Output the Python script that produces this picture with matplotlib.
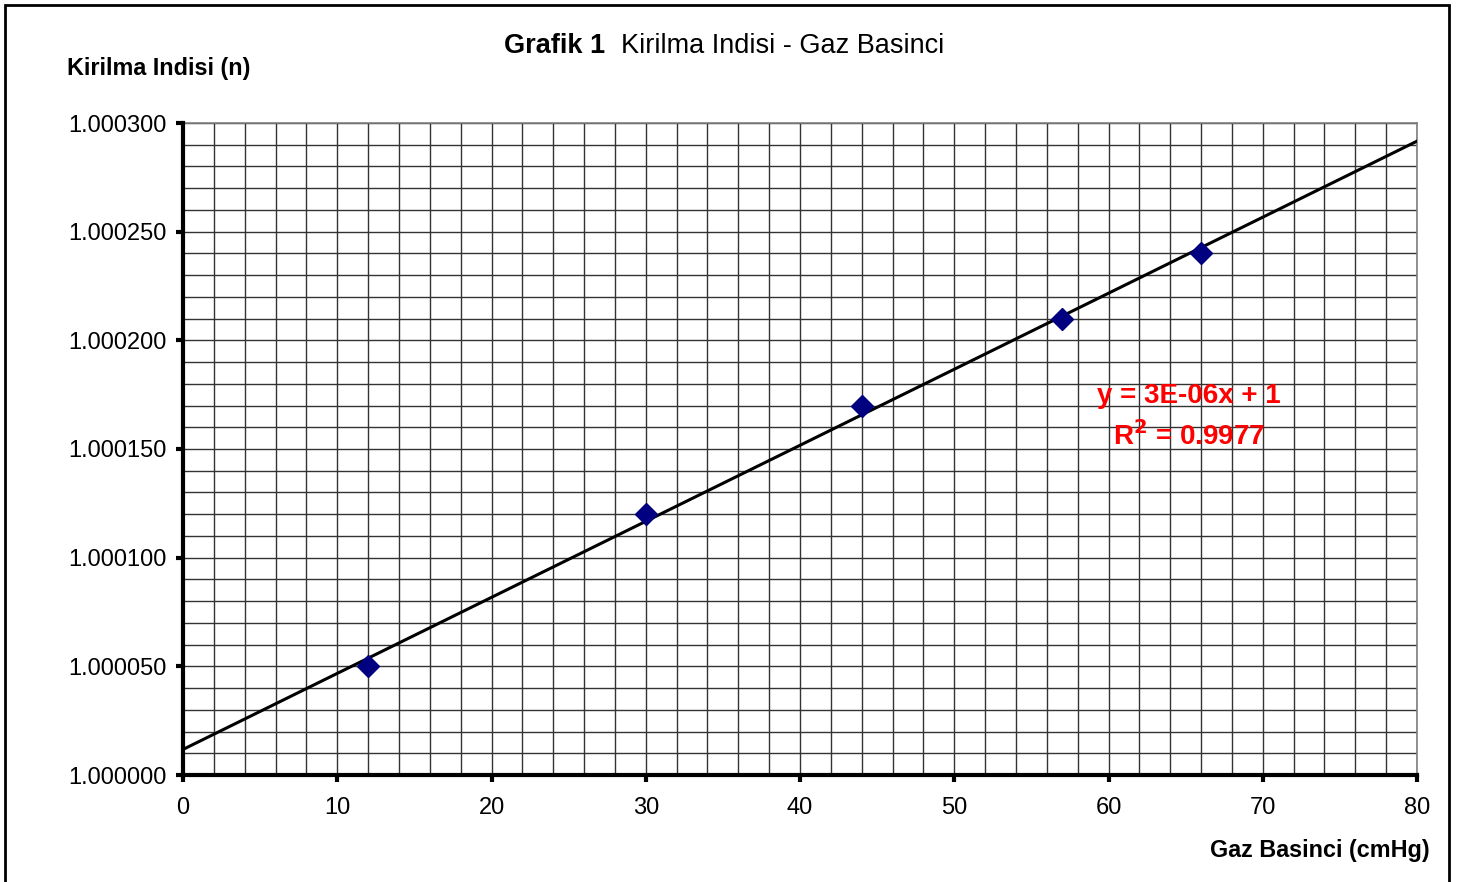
import matplotlib.pyplot as plt
import matplotlib.patches as patches
import numpy as np

plt.rcParams['font.family'] = ['Liberation Sans', 'DejaVu Sans']

# olcum verileri
basinc = [12, 30, 44, 57, 66]
indis = [1.000050, 1.000120, 1.000170, 1.000210, 1.000240]

fig = plt.figure(figsize=(14.61, 8.82), dpi=100)
ax = fig.add_axes([183/1461, 1-775/882, (1417-183)/1461, (775-123)/882])

# cerceve
fig.patches.append(patches.Rectangle((5/1461, -0.05), 1444/1461, 1.05 - 5/882,
                                     transform=fig.transFigure, fill=False,
                                     edgecolor='black', linewidth=2))

# dogrusal uydurma
egim, kesen = np.polyfit(basinc, indis, 1)
tahmin = np.polyval([egim, kesen], basinc)
r2 = 1 - np.sum((np.array(indis) - tahmin)**2) / np.sum((np.array(indis) - np.mean(indis))**2)
xx = np.array([0, 80])
ax.plot(xx, egim*xx + kesen, color='black', linewidth=2.2, zorder=3)
ax.plot(basinc, indis, linestyle='none', marker='D', markersize=11,
        color='#000080', zorder=4)

ax.set_xlim(0, 80)
ax.set_ylim(1.0, 1.0003)
ax.set_xticks(np.arange(0, 81, 10))
ax.set_xticks(np.arange(0, 81, 2), minor=True)
ax.set_yticks(np.arange(0, 7)*0.00005 + 1.0)
ax.set_yticks(np.arange(0, 31)*0.00001 + 1.0, minor=True)
ax.set_yticklabels(['%.6f' % (1.0 + i*0.00005) for i in range(7)])
ax.grid(which='both', color='#333333', linewidth=1)
ax.set_axisbelow(True)

ax.tick_params(axis='both', which='major', direction='out', length=5, width=3,
               labelsize=17)
ax.tick_params(axis='x', which='major', pad=11)
ax.tick_params(axis='y', which='major', pad=7)
ax.tick_params(axis='both', which='minor', length=0)
for s in ['left', 'bottom']:
    ax.spines[s].set_linewidth(3)
    ax.spines[s].set_zorder(5)
for s in ['top', 'right']:
    ax.spines[s].set_color('#808080')
    ax.spines[s].set_linewidth(1.2)

fig.text(67/1461, 1-68/882, 'Kirilma Indisi (n)', fontsize=16.8, fontweight='bold',
         ha='left', va='center')
fig.text(1430/1461, 1-851/882, 'Gaz Basinci (cmHg)', fontsize=16.8, fontweight='bold',
         ha='right', va='center')
fig.text(504/1461, 1-46/882, 'Grafik 1', fontsize=19.5, fontweight='bold',
         ha='left', va='center')
fig.text(621/1461, 1-46/882, 'Kirilma Indisi - Gaz Basinci', fontsize=19.5,
         ha='left', va='center')

ax.text(1189/1461, 1-396/882, 'y = %.0Ex + %.0f' % (egim, kesen),
        transform=fig.transFigure, color='red', fontsize=20, fontweight='bold',
        ha='center', va='center')
ax.text(1189/1461, 1-436/882, 'R$^{\\mathbf{2}}$ = %.4f' % r2,
        transform=fig.transFigure, color='red', fontsize=20, fontweight='bold',
        ha='center', va='center')

fig.savefig('out.png', dpi=100)
